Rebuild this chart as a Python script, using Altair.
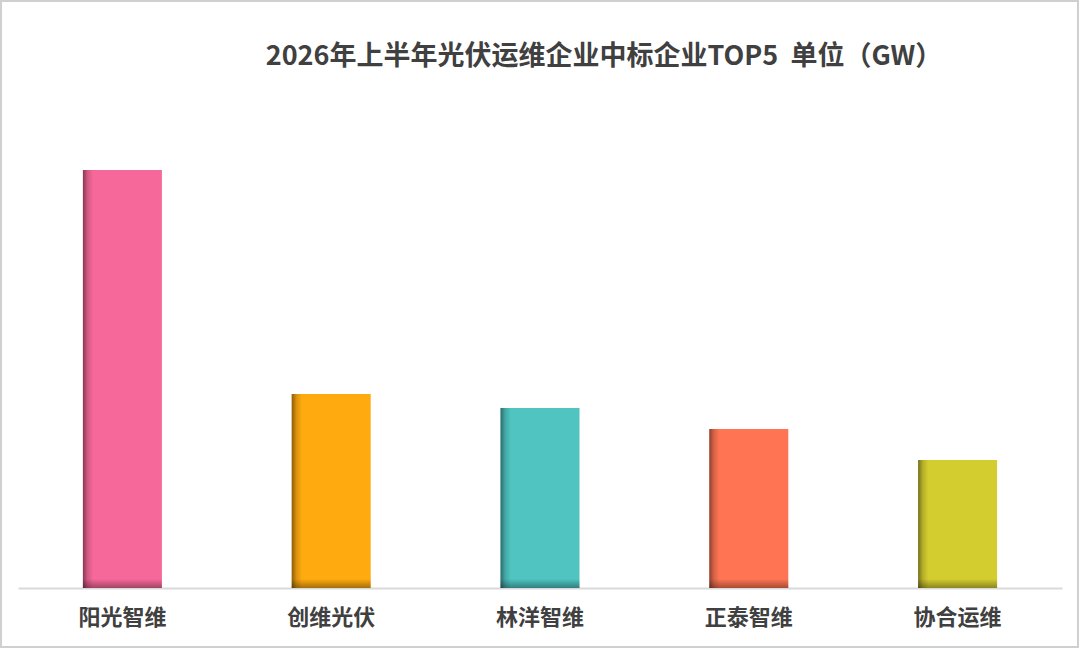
import altair as alt
import pandas as pd

companies = ["阳光智维", "创维光伏", "林洋智维", "正泰智维", "协合运维"]
values = [4.18, 1.94, 1.80, 1.59, 1.28]
colors = ["#F7689A", "#FFAA0F", "#4FC4C1", "#FF7453", "#D4CD2F"]
title_text = "2026年上半年光伏运维企业中标企业TOP5\u00a0\u00a0单位（GW）"

df = pd.DataFrame({"company": companies, "value": values, "color": colors})
df["base"] = 0.0
df["shadow_top"] = 0.09

x_enc = alt.X("company:N", sort=companies,
              scale=alt.Scale(paddingInner=0, paddingOuter=0),
              axis=alt.Axis(title=None, labelAngle=0, ticks=False,
                            domainColor="#d9d9d9", domainWidth=2,
                            labelFont="Noto Sans CJK SC", labelFontWeight="bold",
                            labelFontSize=22, labelColor="#404040", labelPadding=19))
y_scale = alt.Scale(domain=[0, 4.2], nice=False)

base = alt.Chart(df)

bars = base.mark_bar(size=79, cornerRadius=0).encode(
    x=x_enc,
    y=alt.Y("value:Q", scale=y_scale, axis=None),
    color=alt.Color("color:N", scale=None),
)

left_shade = base.mark_bar(
    size=79,
    color=alt.Gradient(
        gradient="linear", x1=0, x2=1, y1=0, y2=0,
        stops=[alt.GradientStop(color="rgba(0,0,0,0.45)", offset=0),
               alt.GradientStop(color="rgba(0,0,0,0.15)", offset=0.06),
               alt.GradientStop(color="rgba(0,0,0,0)", offset=0.13),
               alt.GradientStop(color="rgba(0,0,0,0)", offset=1)],
    ),
).encode(x=alt.X("company:N", sort=companies), y=alt.Y("value:Q", scale=y_scale))

bottom_shade = base.mark_bar(
    size=79,
    color=alt.Gradient(
        gradient="linear", x1=0, x2=0, y1=0, y2=1,
        stops=[alt.GradientStop(color="rgba(0,0,0,0)", offset=0),
               alt.GradientStop(color="rgba(0,0,0,0.35)", offset=1)],
    ),
).encode(x=alt.X("company:N", sort=companies),
         y=alt.Y("shadow_top:Q", scale=y_scale), y2="base:Q")

frame = base.mark_rect(filled=False, stroke="#d0d0d0", strokeWidth=2).encode(
    x=alt.value(-17), x2=alt.value(1060), y=alt.value(-167), y2=alt.value(479)
).transform_filter(alt.datum.company == companies[0])

chart = alt.layer(bars, left_shade, bottom_shade, frame).properties(
    width=1044, height=420,
    padding={"left": 18, "top": 168, "right": 18, "bottom": 70},
    autosize=alt.AutoSizeParams(type="none"),
    title=alt.TitleParams(title_text, anchor="middle", dx=64, offset=-98,
                          baseline="bottom",
                          font="Noto Sans CJK SC", fontWeight="bold",
                          fontSize=27, color="#404040"),
).configure(background="white").configure_view(strokeWidth=0)

chart.save("out.html", embed_options={"renderer": "svg", "actions": False})
